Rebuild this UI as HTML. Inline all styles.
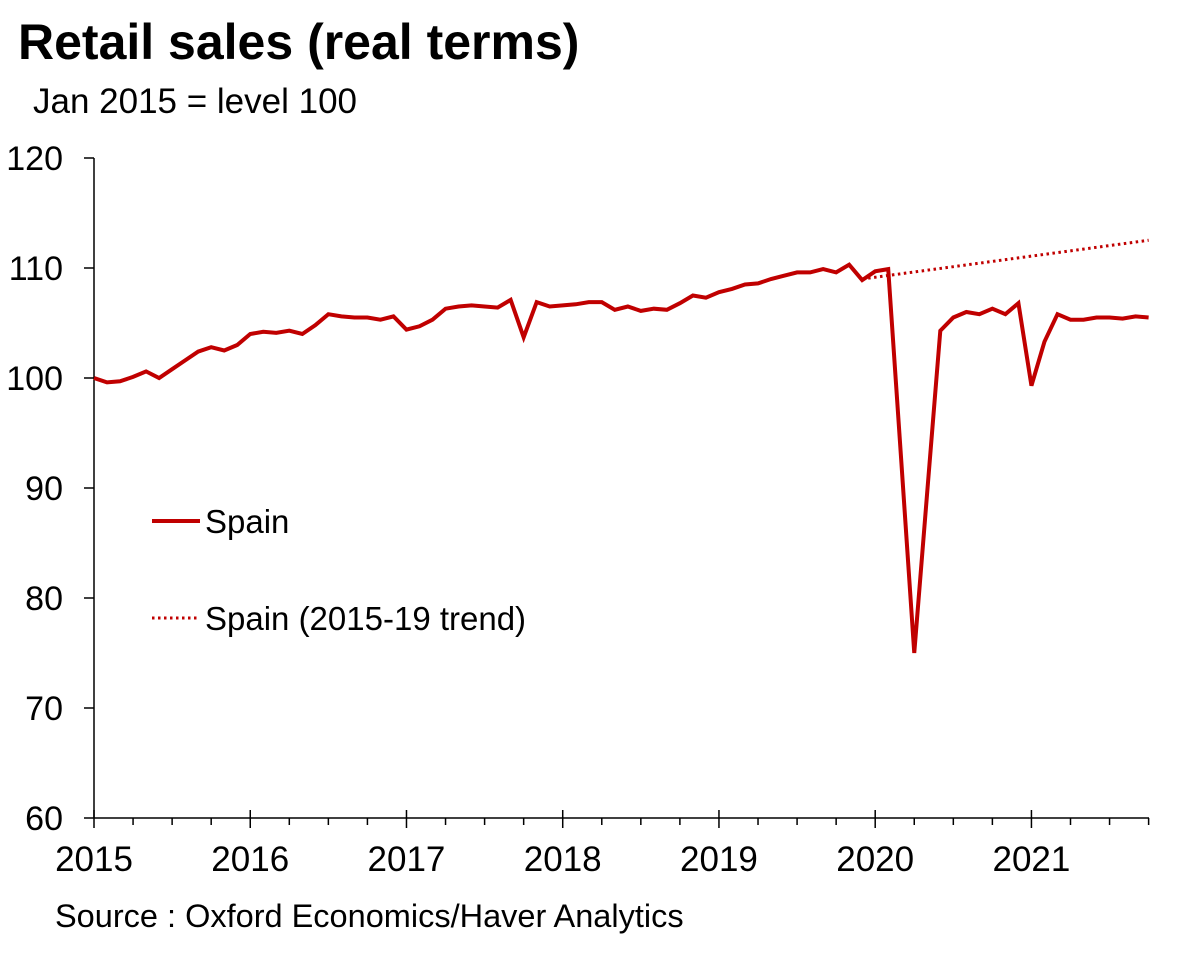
<!DOCTYPE html>
<html><head><meta charset="utf-8"><style>
body{margin:0;background:#fff;}
svg{display:block;font-family:"Liberation Sans",Arial,sans-serif;}
</style></head><body>
<svg width="1200" height="957" id="chart">
<text x="18" y="59" font-size="50" font-weight="bold">Retail sales (real terms)</text>
<text x="33" y="113" font-size="35">Jan 2015 = level 100</text>
<g id="axes"></g>
<g id="series"></g>
<g>
<line x1="152" y1="521" x2="200" y2="521" stroke="#c00000" stroke-width="4"/>
<text x="205" y="533" font-size="33">Spain</text>
<line x1="152" y1="618" x2="200" y2="618" stroke="#c00000" stroke-width="3" stroke-dasharray="2.5 3.5"/>
<text x="205" y="630" font-size="33">Spain (2015-19 trend)</text>
</g>
<text x="55" y="927" font-size="32.5">Source : Oxford Economics/Haver Analytics</text>
</svg>
<script>
const yTicks=[60,70,80,90,100,110,120];
const yearLabels=["2015","2016","2017","2018","2019","2020","2021"];
const spain=[100.0,99.6,99.7,100.1,100.6,100.0,100.8,101.6,102.4,102.8,102.5,103.0,
104.0,104.2,104.1,104.3,104.0,104.8,105.8,105.6,105.5,105.5,105.3,105.6,
104.4,104.7,105.3,106.3,106.5,106.6,106.5,106.4,107.1,103.7,106.9,106.5,
106.6,106.7,106.9,106.9,106.2,106.5,106.1,106.3,106.2,106.8,107.5,107.3,
107.8,108.1,108.5,108.6,109.0,109.3,109.6,109.6,109.9,109.6,110.3,108.9,
109.7,109.9,92.5,75.0,89.7,104.3,105.5,106.0,105.8,106.3,105.8,106.8,
99.3,103.3,105.8,105.3,105.3,105.5,105.5,105.4,105.6,105.5];
const trendStart=59;
const trend=[109.0,109.16,109.32,109.48,109.64,109.8,109.96,110.12,110.28,110.44,110.6,110.76,110.92,111.08,111.24,111.4,111.56,111.72,111.88,112.04,112.2,112.36,112.52];
const NS="http://www.w3.org/2000/svg";
const X0=94,MW=13.02,Y0=818,YS=11.0;
const xm=i=>X0+i*MW;
const yv=v=>Y0-(v-60)*YS;
const axes=document.getElementById('axes');
function mk(tag,attrs,parent){const e=document.createElementNS(NS,tag);for(const k in attrs)e.setAttribute(k,attrs[k]);parent.appendChild(e);return e;}
let e=mk('line',{x1:X0,y1:yv(120),x2:X0,y2:Y0,stroke:'#000','stroke-width':1.5},axes);


e=mk('line',{x1:X0,y1:Y0,x2:1149,y2:Y0,stroke:'#000','stroke-width':1.5},axes);


yTicks.forEach(v=>{
 mk('line',{x1:X0-10,y1:yv(v),x2:X0,y2:yv(v),stroke:'#000','stroke-width':1.5},axes);
 const t=mk('text',{x:63,y:yv(v)+12,'font-size':34,'text-anchor':'end'},axes);
 t.textContent=v;
 
 
});
for(let q=0;q<=27;q++){
 const x=xm(q*3);
 mk('line',{x1:x,y1:q%4==0?Y0-8:Y0,x2:x,y2:q%4==0?Y0+10:Y0+7,stroke:'#000','stroke-width':1.5},axes);
}
yearLabels.forEach((l,i)=>{
 const t=mk('text',{x:xm(i*12),y:871,'font-size':35,'text-anchor':'middle'},axes);
 t.textContent=l;
 
 
});
const ser=document.getElementById('series');
let p=mk('polyline',{points:trend.map((v,i)=>xm(trendStart+i)+','+yv(v)).join(' '),fill:'none',stroke:'#c00000','stroke-width':3,'stroke-dasharray':'2.5 3.5'},ser);


p=mk('polyline',{points:spain.map((v,i)=>xm(i)+','+yv(v)).join(' '),fill:'none',stroke:'#c00000','stroke-width':4,'stroke-linejoin':'miter'},ser);


</script>
</body></html>
